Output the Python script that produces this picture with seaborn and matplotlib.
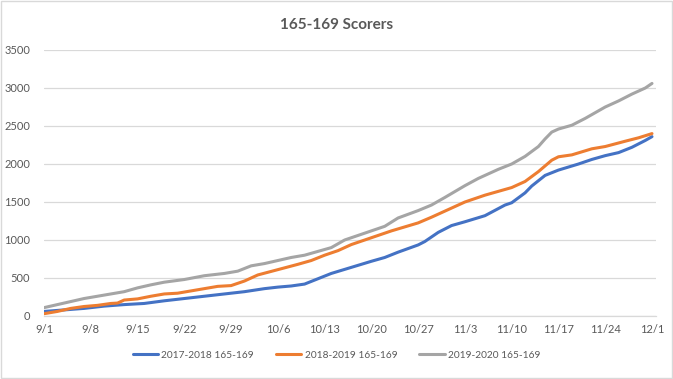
import numpy as np
import pandas as pd
import matplotlib
matplotlib.use("Agg")
import matplotlib.pyplot as plt
import seaborn as sns

# days since 9/1
days_1718 = [0, 3, 6, 9, 12, 15, 18, 21, 24, 27, 30, 33, 35, 37, 39, 41, 43, 46,
             49, 51, 53, 56, 57, 59, 61, 63, 66, 69, 70, 72, 73, 75, 77, 80, 82,
             84, 86, 88, 90, 91]
vals_1718 = [60, 80, 100, 130, 150, 165, 200, 230, 260, 290, 320, 360, 380, 395,
             420, 490, 560, 640, 720, 770, 840, 935, 980, 1100, 1190, 1240, 1320,
             1460, 1490, 1620, 1710, 1850, 1920, 2000, 2060, 2110, 2150, 2220,
             2310, 2360]

days_1819 = [0, 2, 4, 6, 8, 10, 11, 12, 14, 16, 18, 20, 22, 24, 26, 28, 30, 31,
             32, 35, 38, 40, 42, 44, 46, 49, 52, 56, 58, 60, 63, 66, 70, 72, 74,
             76, 77, 79, 82, 84, 87, 89, 91]
vals_1819 = [30, 60, 100, 125, 140, 165, 170, 210, 225, 260, 290, 300, 330, 360,
             390, 400, 460, 500, 540, 610, 680, 730, 800, 860, 940, 1030, 1120,
             1225, 1300, 1380, 1500, 1590, 1690, 1770, 1900, 2050, 2095, 2120,
             2200, 2230, 2300, 2345, 2400]

days_1920 = [0, 2, 4, 6, 8, 10, 12, 14, 16, 18, 21, 24, 27, 29, 31, 33, 35, 37,
             39, 41, 43, 45, 47, 49, 51, 53, 56, 58, 60, 63, 65, 68, 70, 72, 74,
             75, 76, 77, 79, 81, 83, 84, 86, 88, 90, 91]
vals_1920 = [110, 150, 190, 230, 260, 290, 320, 370, 410, 445, 480, 530, 560,
             590, 660, 690, 730, 770, 800, 850, 900, 1000, 1060, 1120, 1180, 1290,
             1387, 1460, 1560, 1715, 1810, 1930, 2000, 2100, 2230, 2330, 2420,
             2460, 2510, 2600, 2700, 2750, 2830, 2920, 3000, 3060]

series_names = ["2017-2018 165-169", "2018-2019 165-169", "2019-2020 165-169"]
tick_days = [0, 7, 14, 21, 28, 35, 42, 49, 56, 63, 70, 77, 84, 91]
tick_labels = ["9/1", "9/8", "9/15", "9/22", "9/29", "10/6", "10/13", "10/20",
               "10/27", "11/3", "11/10", "11/17", "11/24", "12/1"]
y_ticks = [0, 500, 1000, 1500, 2000, 2500, 3000, 3500]

df = pd.concat([
    pd.DataFrame({"day": days_1718, "scorers": vals_1718, "series": series_names[0]}),
    pd.DataFrame({"day": days_1819, "scorers": vals_1819, "series": series_names[1]}),
    pd.DataFrame({"day": days_1920, "scorers": vals_1920, "series": series_names[2]}),
])

sns.set_theme(style="white")
plt.rcParams["font.family"] = ["Lato", "DejaVu Sans"]
TXT = "#595959"
GRID = "#d9d9d9"

fig = plt.figure(figsize=(6.73, 3.79), dpi=100)
ax = fig.add_axes([44 / 673, 1 - 316 / 379, 612 / 673, 266 / 379])

sns.lineplot(data=df, x="day", y="scorers", hue="series", ax=ax,
             palette=["#4472C4", "#ED7D31", "#A5A5A5"], linewidth=2.2,
             legend=True)

ax.set_xlim(0, 91.6)
ax.set_ylim(0, 3500)
ax.set_yticks(y_ticks)
ax.set_xticks(tick_days)
ax.set_xticklabels(tick_labels)
ax.set_xlabel("")
ax.set_ylabel("")
ax.yaxis.grid(True, color=GRID, lw=0.9)
ax.set_axisbelow(True)
for s in ["top", "right", "left"]:
    ax.spines[s].set_visible(False)
ax.spines["bottom"].set_color(GRID)
ax.spines["bottom"].set_linewidth(0.9)
ax.tick_params(axis="x", colors=TXT, labelsize=8, length=4, width=0.9,
               direction="out", color=GRID, pad=2)
ax.tick_params(axis="y", colors=TXT, labelsize=8, length=0, pad=10)
ax.tick_params(axis="x", labelcolor=TXT)

fig.text(0.5, 1 - 25 / 379, "165-169 Scorers", ha="center", va="center",
         fontsize=11, fontweight="bold", color=TXT)

handles, labels = ax.get_legend_handles_labels()
ax.get_legend().remove()
fig.legend(handles, labels, loc="center", bbox_to_anchor=(0.5, 1 - 355 / 379),
           ncol=3, frameon=False, fontsize=7.3, labelcolor=TXT,
           handlelength=2.5, columnspacing=2.2, handletextpad=0.3)

fig.patches.append(plt.Rectangle((0.001, 0.002), 0.997, 0.995, transform=fig.transFigure,
                                 fill=False, edgecolor=GRID, lw=1))

fig.savefig("out.png", dpi=100, facecolor="white")
